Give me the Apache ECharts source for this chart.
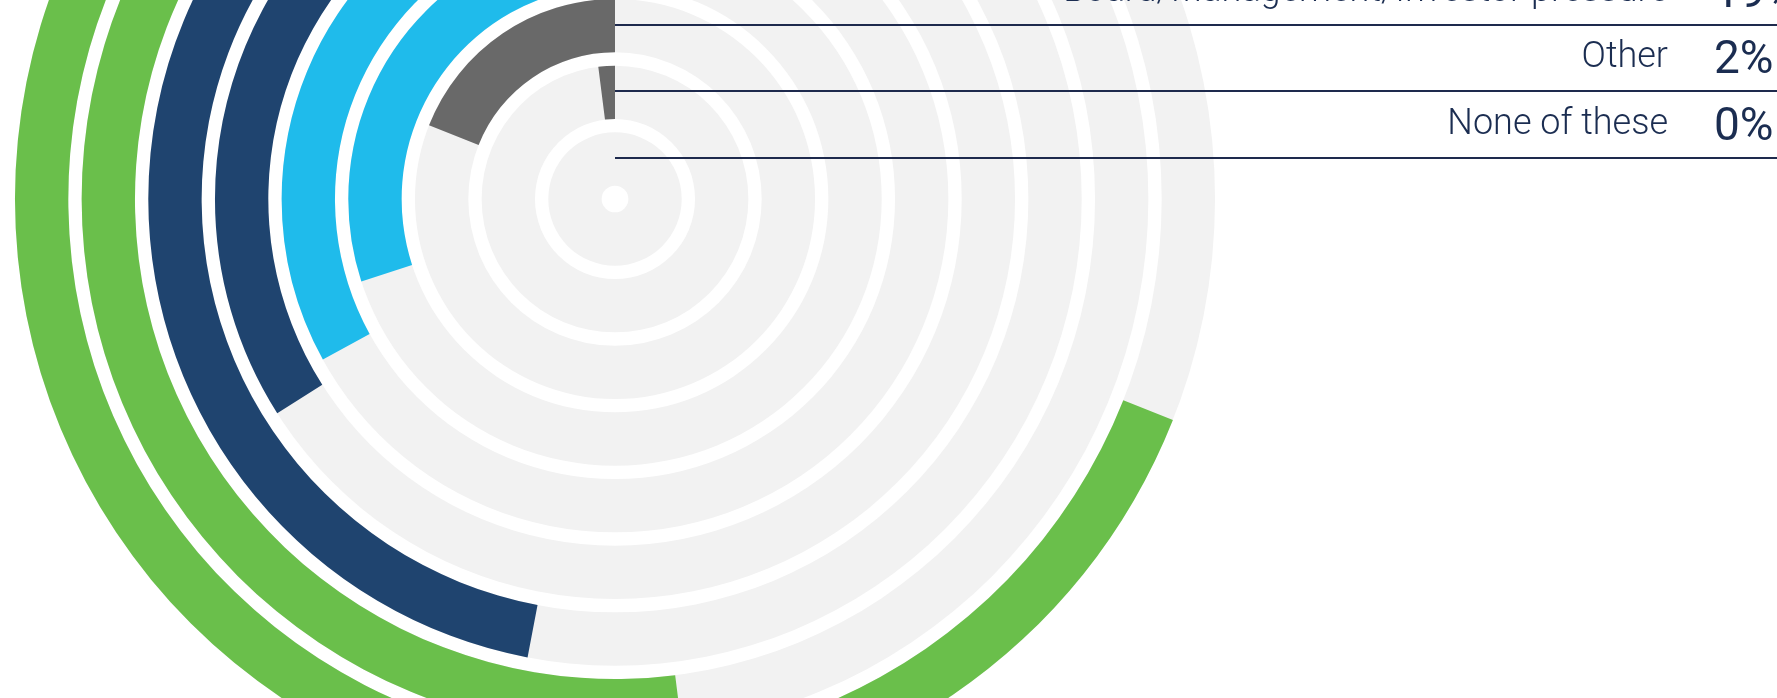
<!DOCTYPE html>
<html>
<head>
<meta charset="utf-8">
<script src="https://cdn.jsdelivr.net/npm/echarts@6/dist/echarts.min.js"></script>
<style>
  html, body { margin: 0; padding: 0; background: #ffffff; }
  #chart { width: 1777px; height: 698px; }
</style>
</head>
<body>
<div id="chart"></div>
<script>
// tracks from the centre outwards
const categories = [
  'None of these',
  'Other',
  'Board/Management/Investor pressure',
  '', '', '', '', '', ''
];
const values = [0, 2, 19, 30, 33, 34, 47, 52, 69];
const barColors = ['#696969', '#696969', '#696969', '#1fbbeb', '#1fbbeb', '#1f446f', '#1f446f', '#6abf4b', '#6abf4b'];

const textColor = '#1b2d51';
const chart = echarts.init(document.getElementById('chart'));

const option = {
  animation: false,
  backgroundColor: '#ffffff',
  polar: {
    center: [615, 199],
    radius: [6.7, 606.7]
  },
  angleAxis: {
    type: 'value',
    min: 0,
    max: 100,
    startAngle: 90,
    clockwise: false,
    show: false
  },
  radiusAxis: {
    type: 'category',
    data: categories,
    show: false
  },
  series: [
    {
      type: 'bar',
      coordinateSystem: 'polar',
      data: values.map((v, i) => ({ value: v, itemStyle: { color: barColors[i] } })),
      barCategoryGap: '20%',
      showBackground: true,
      backgroundStyle: { color: '#f2f2f2' }
    }
  ]
};
chart.setOption(option);

// leader lines and labels, placed from the polar axis positions
const width = chart.getWidth();
const graphics = [];
categories.forEach((name, i) => {
  if (!name) return;
  const pt = chart.convertToPixel({ polarIndex: 0 }, [i, 0]);
  const y = Math.round(pt[1]) - 1;
  graphics.push({
    type: 'line',
    shape: { x1: pt[0], y1: y, x2: width, y2: y },
    style: { stroke: '#1e2a4d', lineWidth: 2 },
    z: 10
  });
  graphics.push({
    type: 'text',
    x: 1668,
    y: y - 33,
    style: {
      text: name,
      fill: textColor,
      font: '300 36px Roboto, "Noto Sans", sans-serif',
      align: 'right',
      verticalAlign: 'middle'
    },
    z: 10
  });
  graphics.push({
    type: 'text',
    x: 1714,
    y: y - 30,
    style: {
      text: values[i] + '%',
      fill: textColor,
      font: '400 46px Roboto, "Noto Sans", sans-serif',
      align: 'left',
      verticalAlign: 'middle'
    },
    z: 10
  });
});
chart.setOption({ graphic: graphics });
</script>
</body>
</html>
